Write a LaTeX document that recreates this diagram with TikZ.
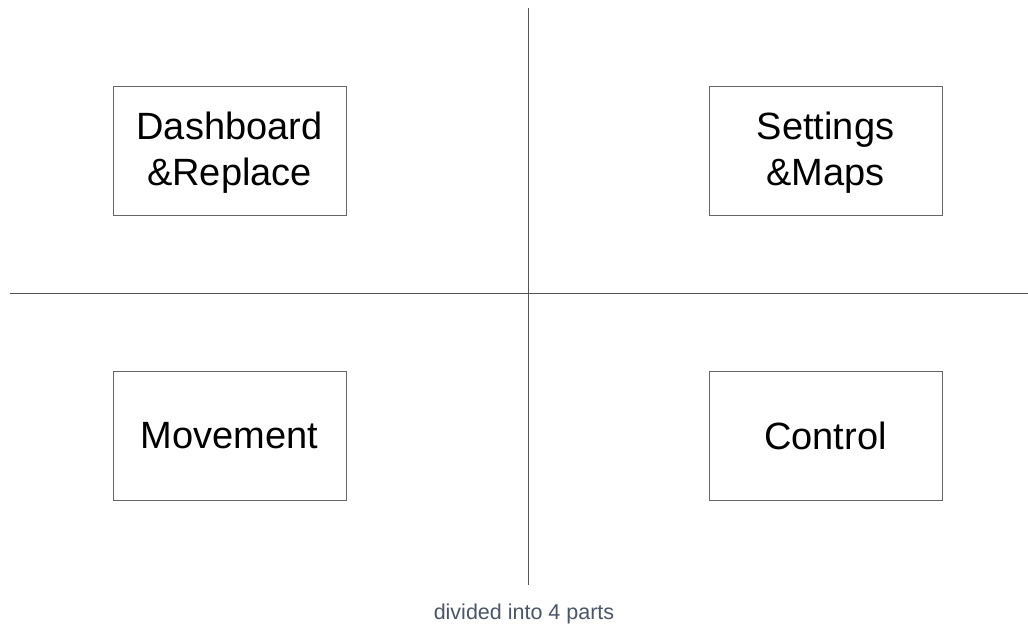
\documentclass[tikz,border=0pt]{standalone}
\usepackage{fontspec}
\setmainfont{Liberation Sans}
\definecolor{linec}{HTML}{555555}
\definecolor{boxc}{HTML}{666666}
\definecolor{capc}{HTML}{4A5568}
\begin{document}
\begin{tikzpicture}[x=1pt,y=-1pt,
  part/.style={draw=boxc,line width=0.9pt,minimum width=233pt,minimum height=129pt,inner sep=0pt,align=center,font=\fontsize{38}{46}\selectfont,text=black},
  divider/.style={draw=linec,line width=0.9pt}]
\useasboundingbox (0,0) rectangle (1028,624);
\coordinate (vt) at (528,8);
\coordinate (vb) at (528,585);
\coordinate (hl) at (10,293);
\coordinate (hr) at (1028,293);
\draw[divider] (vt) -- (vb);
\draw[divider] (hl) -- (hr);
\node[part] (dash) at (229.5,150.5) {};
\node[font=\fontsize{38}{46}\selectfont,align=center,inner sep=0pt] (dasht) at (229.5,153) {Dashboard\\\&Replace};
\node[part] (set) at (825.5,150.5) {};
\node[font=\fontsize{38}{46}\selectfont,align=center,inner sep=0pt] (sett) at (825.5,153) {Settings\\\&Maps};
\node[part] (move) at (229.5,436) {Movement};
\node[part] (ctrl) at (825.5,436) {Control};
\node[text=capc,font=\fontsize{21.5}{26}\selectfont] (cap) at (524,614) {divided into 4 parts};
\end{tikzpicture}
\end{document}
